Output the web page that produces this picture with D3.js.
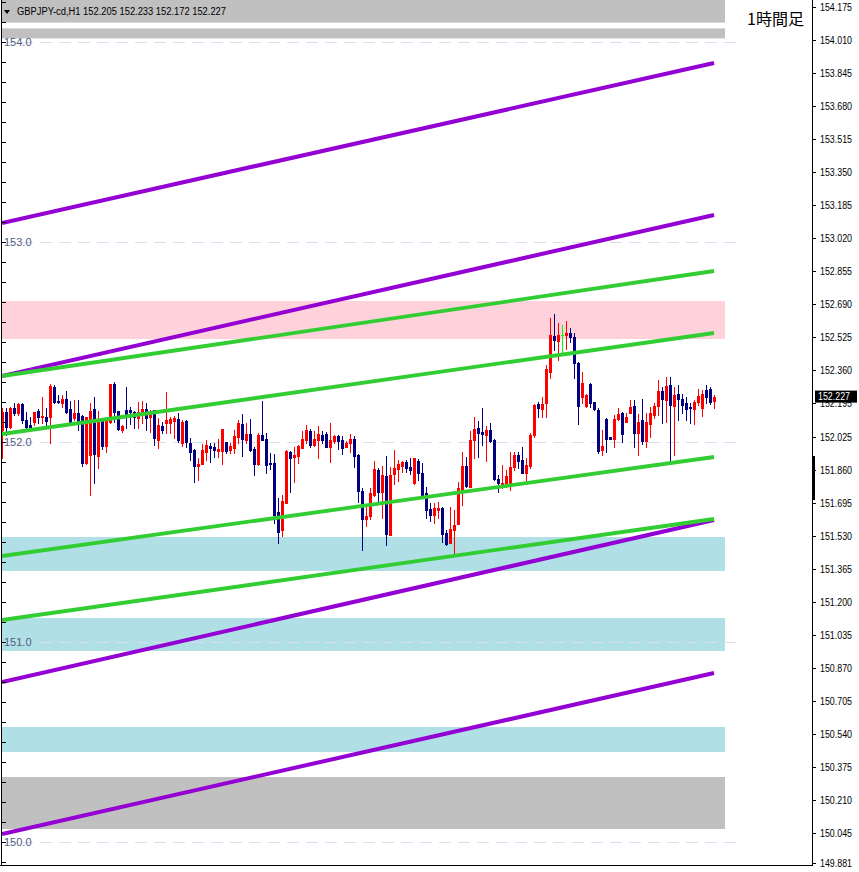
<!DOCTYPE html>
<html><head><meta charset="utf-8">
<script src="https://cdn.jsdelivr.net/npm/d3@7"></script>
<style>html,body{margin:0;padding:0;background:#fff;}svg{display:block;}</style>
</head><body>
<script>
// ---------------- DATA ----------------
const symbolTitle = "GBPJPY-cd,H1  152.205 152.233 152.172 152.227";
const timeframeLabel = "1時間足";
const lastPrice = 152.227;

const open = [
152.060,152.152,152.077,152.168,152.143,152.188,152.110,152.085,152.098,152.157,
152.127,152.123,152.127,152.277,152.207,152.193,152.215,152.163,152.118,152.143,
152.130,151.893,151.935,152.165,151.932,152.107,151.982,152.098,152.290,152.155,
152.060,152.160,152.160,152.148,152.122,152.143,152.165,152.127,152.160,152.010,
152.080,152.093,152.097,152.107,152.113,151.993,152.105,151.993,151.960,151.882,
151.892,151.952,151.980,151.977,151.957,151.957,152.000,151.960,151.972,152.027,
152.090,152.010,152.040,151.965,151.890,152.035,152.015,151.893,151.893,151.648,
151.560,151.697,151.950,151.927,151.930,151.970,152.010,152.057,151.985,152.010,
152.035,152.040,151.977,152.007,152.030,152.010,151.977,151.997,152.015,151.935,
151.755,151.613,151.632,151.735,151.860,151.752,151.830,151.537,151.838,151.865,
151.882,151.898,151.877,151.793,151.907,151.847,151.743,151.665,151.635,151.660,
151.672,151.545,151.497,151.560,151.590,151.760,151.880,151.777,152.010,152.068,
152.052,152.033,152.060,152.010,151.817,151.785,151.790,151.785,151.877,151.935,
151.910,151.847,151.882,152.035,152.188,152.165,152.197,152.352,152.530,152.507,
152.535,152.535,152.547,152.527,152.393,152.227,152.180,152.290,152.198,152.160,
151.960,152.115,152.027,152.015,152.115,152.147,152.102,152.147,152.180,152.047,
152.110,152.007,152.090,152.135,152.182,152.257,152.210,152.285,152.182,152.238,
152.217,152.193,152.177,152.165,152.202,152.172,152.260,152.263,152.205];

const high = [
152.168,152.168,152.173,152.193,152.193,152.193,152.152,152.127,152.152,152.163,
152.227,152.168,152.290,152.285,152.235,152.235,152.257,152.207,152.210,152.210,
152.135,152.127,152.193,152.227,152.155,152.110,152.118,152.290,152.302,152.157,
152.085,152.277,152.177,152.155,152.198,152.205,152.193,152.160,152.160,152.118,
152.102,152.252,152.127,152.130,152.147,152.110,152.110,152.018,151.963,151.918,
151.990,152.010,151.993,151.997,152.015,152.065,152.002,151.997,152.060,152.110,
152.140,152.097,152.115,151.977,152.047,152.207,152.043,151.943,151.940,151.722,
151.735,151.960,151.957,151.973,151.987,152.055,152.085,152.063,152.057,152.080,
152.057,152.052,152.097,152.035,152.035,152.032,152.003,152.040,152.032,151.940,
151.768,151.685,151.768,151.907,151.872,151.880,151.930,151.873,151.960,151.910,
151.907,151.910,151.918,151.922,151.913,151.893,151.775,151.693,151.697,151.698,
151.677,151.560,151.677,151.660,151.802,151.952,151.923,152.057,152.127,152.107,
152.168,152.080,152.093,152.015,151.835,151.885,151.860,151.952,151.952,151.952,
151.977,151.918,152.043,152.188,152.202,152.227,152.385,152.622,152.640,152.593,
152.585,152.605,152.568,152.543,152.402,152.352,152.238,152.293,152.202,152.168,
152.060,152.118,152.027,152.135,152.168,152.152,152.143,152.210,152.210,152.140,
152.215,152.143,152.177,152.193,152.310,152.273,152.323,152.327,152.273,152.285,
152.240,152.227,152.193,152.210,152.265,152.260,152.285,152.273,152.233];

const low = [
151.918,152.035,152.068,152.135,152.135,152.093,152.060,152.060,152.085,152.093,
152.093,152.085,151.993,152.197,152.193,152.177,152.143,152.085,152.110,152.060,
151.882,151.888,151.735,151.793,151.868,151.965,151.948,152.093,152.102,152.060,
152.052,152.068,152.088,152.072,152.068,152.093,152.060,152.052,151.985,151.968,
152.043,152.043,152.043,152.018,152.002,151.980,151.973,151.910,151.802,151.810,
151.890,151.910,151.902,151.923,151.923,151.890,151.947,151.947,151.943,151.997,
151.932,151.997,151.955,151.835,151.885,152.010,151.847,151.865,151.593,151.497,
151.532,151.693,151.752,151.802,151.897,151.970,151.997,151.977,151.980,151.918,
151.997,151.973,151.902,151.997,151.965,151.940,151.973,151.952,151.877,151.702,
151.460,151.582,151.613,151.730,151.693,151.622,151.485,151.535,151.788,151.807,
151.852,151.852,151.838,151.790,151.810,151.722,151.622,151.605,151.597,151.622,
151.502,151.485,151.495,151.438,151.588,151.685,151.777,151.773,151.918,151.927,
151.985,151.907,152.002,151.810,151.748,151.768,151.777,151.760,151.860,151.868,
151.843,151.810,151.872,152.027,152.127,152.123,152.123,152.322,152.460,152.410,
152.443,152.463,152.502,152.322,152.090,152.197,152.177,152.177,152.160,151.943,
151.935,151.952,152.013,151.977,152.110,151.998,152.098,152.143,151.977,151.935,
151.990,151.977,152.023,152.118,152.135,152.097,152.098,151.893,151.935,152.110,
152.143,152.110,152.097,152.090,152.185,152.130,152.193,152.188,152.172];

const close = [
152.152,152.077,152.168,152.143,152.188,152.110,152.077,152.077,152.148,152.127,
152.132,152.107,152.280,152.202,152.198,152.213,152.148,152.093,152.143,152.102,
151.893,152.127,152.157,151.940,152.107,151.982,152.107,152.290,152.148,152.063,
152.082,152.127,152.152,152.127,152.148,152.165,152.122,152.143,152.018,152.085,
152.060,152.110,152.113,152.118,152.010,152.102,152.002,151.952,151.882,151.890,
151.960,151.985,151.972,151.960,151.965,152.065,151.955,151.980,152.030,152.093,
152.015,152.040,151.960,151.892,152.035,152.010,151.885,151.890,151.635,151.552,
151.705,151.957,151.920,151.935,151.980,152.015,152.060,151.985,152.015,152.040,
152.010,151.977,152.010,152.030,152.005,151.972,151.993,152.015,151.932,151.755,
151.615,151.632,151.745,151.865,151.752,151.835,151.540,151.835,151.872,151.890,
151.900,151.870,151.860,151.918,151.847,151.735,151.660,151.635,151.672,151.672,
151.540,151.490,151.563,151.585,151.772,151.880,151.782,152.012,152.065,152.047,
152.038,152.060,152.007,151.813,151.793,151.793,151.830,151.873,151.935,151.907,
151.847,151.885,152.035,152.185,152.168,152.190,152.365,152.535,152.510,152.535,
152.535,152.547,152.527,152.393,152.180,152.297,152.235,152.197,152.163,151.955,
151.980,152.015,152.013,152.115,152.140,152.040,152.127,152.177,152.047,152.098,
152.005,152.098,152.143,152.180,152.257,152.213,152.280,152.185,152.235,152.213,
152.187,152.165,152.168,152.202,152.230,152.240,152.227,152.202,152.227];

// horizontal zones (price ranges) and their kind
const zoneTop    = [154.210, 154.068, 152.705, 151.525, 151.120, 150.575, 150.325];
const zoneBottom = [154.097, 154.018, 152.515, 151.355, 150.955, 150.450, 150.065];
const zoneKind   = ["gray", "gray", "pink", "blue", "blue", "blue", "gray"];
const zoneFromBar = -2, zoneToBar = 180.75;

// trend / channel lines: price at first bar and at last bar
const trendKind = ["purple","purple","purple","purple","green","green","green","green"];
const trendP0   = [153.095, 152.330, 150.800, 150.040, 152.330, 152.040, 151.430, 151.110];
const trendP1   = [153.895, 153.135, 151.610, 150.845, 152.855, 152.545, 151.925, 151.615];

// grid levels with left labels
const gridLevels = [154.0, 153.0, 152.0, 151.0, 150.0];
const gridLabels = ["154.0", "153.0", "152.0", "151.0", "150.0"];

// right price-axis tick labels
const axisLabels = ["154.175","154.010","153.845","153.680","153.515","153.350","153.185",
  "153.020","152.855","152.690","152.525","152.360","152.195","152.025","151.860","151.695",
  "151.530","151.365","151.200","151.035","150.870","150.705","150.540","150.375","150.210",
  "150.045","149.881"];

// ---------------- DRAW ----------------
const W = 859, H = 872;
const plotL = 2, plotR = 812, plotT = 0, plotB = 866;
const kindColor = {gray:"#c0c0c0", pink:"#ffd1da", blue:"#b0e0e6", purple:"#9400d3", green:"#32cd32"};

const svg = d3.select("body").append("svg").attr("width", W).attr("height", H);
svg.append("rect").attr("width", W).attr("height", H).attr("fill", "#fff");

const n = open.length;
const x = d3.scaleLinear().domain([0, n - 1]).range([2, 714]);
const y = d3.scaleLinear().domain([154.21, 149.88]).range([0, 866]);

svg.append("defs").append("clipPath").attr("id","plot")
  .append("rect").attr("x", plotL).attr("y", plotT).attr("width", plotR - plotL).attr("height", plotB - plotT);
const g = svg.append("g").attr("clip-path","url(#plot)");

// zones
g.selectAll("rect.zone").data(zoneTop).join("rect").attr("class","zone")
  .attr("x", x(zoneFromBar)).attr("width", x(zoneToBar) - x(zoneFromBar))
  .attr("y", (d) => y(d)).attr("height", (d, i) => y(zoneBottom[i]) - y(d))
  .attr("fill", (d, i) => kindColor[zoneKind[i]]);

// dashed grid lines
g.selectAll("line.grid").data(gridLevels).join("line").attr("class","grid")
  .attr("x1", plotL).attr("x2", 736)
  .attr("y1", d => Math.round(y(d)) + 0.5).attr("y2", d => Math.round(y(d)) + 0.5)
  .attr("stroke", "#dcdcf2").attr("stroke-width", 1).attr("stroke-dasharray", "12,7");

g.selectAll("text.glab").data(gridLevels).join("text").attr("class","glab")
  .attr("x", 4).attr("y", d => y(d)).attr("dy", "0.36em")
  .attr("font-family", "Liberation Sans, Arial, sans-serif").attr("font-size", 11)
  .attr("fill", "#4d6080").text((d, i) => gridLabels[i]);

// candles
const bars = d3.range(n);
const cg = g.append("g");
const colorOf = i => close[i] > open[i] ? "#ff0000" : (close[i] < open[i] ? "#000080" : "#00ff00");
cg.selectAll("line.wick").data(bars).join("line").attr("class","wick")
  .attr("x1", i => Math.round(x(i)) + 0.5).attr("x2", i => Math.round(x(i)) + 0.5)
  .attr("y1", i => Math.round(y(high[i]))).attr("y2", i => Math.round(y(low[i])) + 1)
  .attr("stroke", colorOf).attr("stroke-width", 1);
cg.selectAll("rect.body").data(bars).join("rect").attr("class","body")
  .attr("x", i => Math.round(x(i)) - 1).attr("width", 3)
  .attr("y", i => Math.round(y(Math.max(open[i], close[i]))))
  .attr("height", i => Math.max(1, Math.round(y(Math.min(open[i], close[i]))) - Math.round(y(Math.max(open[i], close[i]))) + 1))
  .attr("fill", colorOf);

// trend lines
g.selectAll("line.trend").data(trendP0).join("line").attr("class","trend")
  .attr("x1", x(0)).attr("x2", x(n - 1))
  .attr("y1", d => y(d)).attr("y2", (d, i) => y(trendP1[i]))
  .attr("stroke", (d, i) => kindColor[trendKind[i]])
  .attr("stroke-width", (d, i) => trendKind[i] === "purple" ? 4 : 3.8);

// title
svg.append("path").attr("d", "M4,10 L10,10 L7,14 Z").attr("fill", "#000");
svg.append("text").attr("x", 17).attr("y", 15)
  .attr("font-family", "Liberation Sans, Arial, sans-serif").attr("font-size", 10)
  .attr("textLength", 209).attr("lengthAdjust", "spacingAndGlyphs")
  .attr("fill", "#000").text(symbolTitle);
svg.append("text").attr("x", 747).attr("y", 25)
  .attr("font-family", "Noto Sans CJK JP, sans-serif").attr("font-size", 16)
  .attr("fill", "#000").text(timeframeLabel);

// left axis line and ticks
svg.append("line").attr("x1", 1.5).attr("x2", 1.5).attr("y1", 0).attr("y2", plotB).attr("stroke", "#000");
const leftTicks = d3.range(1499, 1543).map(v => v / 10);
svg.selectAll("line.lt").data(leftTicks).join("line").attr("class","lt")
  .attr("x1", 2).attr("x2", 6)
  .attr("y1", d => Math.round(y(d)) + 0.5).attr("y2", d => Math.round(y(d)) + 0.5)
  .attr("stroke", "#000");

// right axis
svg.append("line").attr("x1", plotR + 0.5).attr("x2", plotR + 0.5).attr("y1", 0).attr("y2", plotB).attr("stroke", "#000");
svg.append("line").attr("x1", 0).attr("x2", plotR + 1).attr("y1", plotB - 0.5).attr("y2", plotB - 0.5).attr("stroke", "#000");
const axY = d => Math.min(y(+d), plotB - 3);
svg.selectAll("line.rt").data(axisLabels).join("line").attr("class","rt")
  .attr("x1", plotR).attr("x2", plotR + 4)
  .attr("y1", d => Math.round(axY(d)) + 0.5).attr("y2", d => Math.round(axY(d)) + 0.5)
  .attr("stroke", "#000");
svg.selectAll("text.rl").data(axisLabels).join("text").attr("class","rl")
  .attr("x", 820).attr("y", d => axY(d)).attr("dy", "0.35em")
  .attr("font-family", "Liberation Sans, Arial, sans-serif").attr("font-size", 10)
  .attr("textLength", 32).attr("lengthAdjust", "spacingAndGlyphs")
  .attr("fill", "#000").text(d => d);

// scroll marker on axis
svg.append("rect").attr("x", plotR).attr("y", y(151.93)).attr("width", 3).attr("height", y(151.71) - y(151.93)).attr("fill", "#000");

// last price box
svg.append("rect").attr("x", 815).attr("y", y(lastPrice) - 6).attr("width", 42).attr("height", 12).attr("fill", "#000");
svg.append("text").attr("x", 818).attr("y", y(lastPrice)).attr("dy", "0.35em")
  .attr("font-family", "Liberation Sans, Arial, sans-serif").attr("font-size", 10)
  .attr("textLength", 32).attr("lengthAdjust", "spacingAndGlyphs")
  .attr("fill", "#fff").text(lastPrice.toFixed(3));
</script>
</body></html>
